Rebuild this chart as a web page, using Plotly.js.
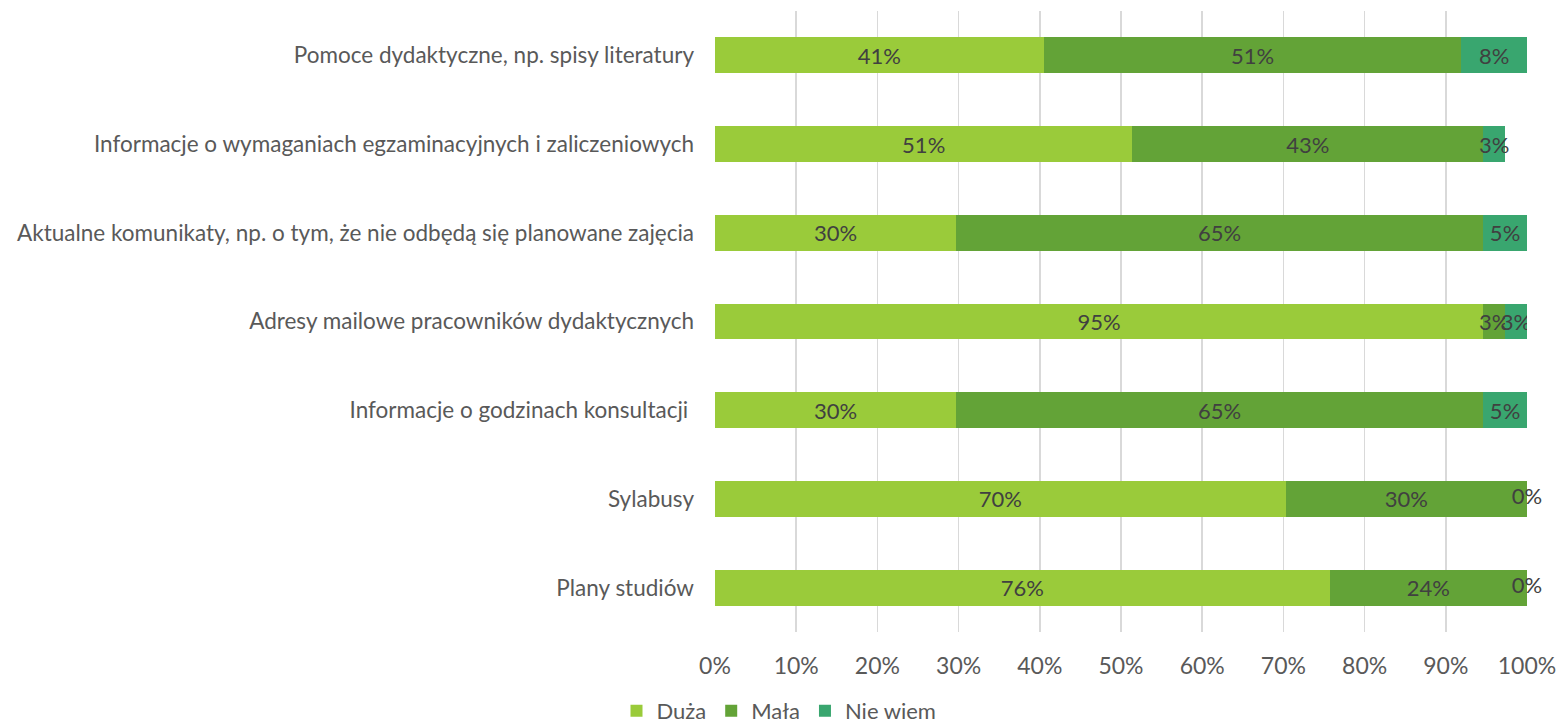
<!DOCTYPE html>
<html>
<head>
<meta charset="utf-8">
<script src="https://cdn.plot.ly/plotly-3.0.1.min.js"></script>
<style>html,body{margin:0;padding:0;background:#fff;}#chart{width:1558px;height:727px;}</style>
</head>
<body>
<div id="chart"></div>
<script>
const categories = [
  "Pomoce dydaktyczne, np. spisy literatury",
  "Informacje o wymaganiach egzaminacyjnych i zaliczeniowych",
  "Aktualne komunikaty, np. o tym, że nie odbędą się planowane zajęcia",
  "Adresy mailowe pracowników dydaktycznych",
  "Informacje o godzinach konsultacji ",
  "Sylabusy",
  "Plany studiów"
];
const duza    = [0.405, 0.514, 0.297, 0.946, 0.297, 0.703, 0.757];
const mala    = [0.514, 0.432, 0.649, 0.027, 0.649, 0.297, 0.243];
const nieWiem = [0.081, 0.027, 0.054, 0.027, 0.054, 0.000, 0.000];
const seriesNames = ["Duża", "Mała", "Nie wiem"];
const colors = ["#9ACB3A", "#63A337", "#39A66F"];
const xTicks = [0,0.1,0.2,0.3,0.4,0.5,0.6,0.7,0.8,0.9,1.0];
const xTickText = ["0%","10%","20%","30%","40%","50%","60%","70%","80%","90%","100%"];

const FONT = "Lato, 'Open Sans', sans-serif";
const FS = 22;
const txtColor = "#404040";
const seriesVals = [duza, mala, nieWiem];
const pct = v => Math.round(v*100) + "%";

const traces = seriesVals.map((vals, i) => ({
  type: "bar",
  orientation: "h",
  name: seriesNames[i],
  y: categories,
  x: vals,
  marker: {color: colors[i], line: {width: 0}},
  width: 0.405,
  text: vals.map(pct),
  textposition: "inside",
  insidetextanchor: "middle",
  constraintext: "none",
  textangle: 0,
  textfont: {family: FONT, size: FS, color: txtColor},
  hoverinfo: "none"
}));

// labels for zero-width segments (drawn at the end of the stack)
const zeroIdx = nieWiem.map((v, i) => v === 0 ? i : -1).filter(i => i >= 0);
traces.push({
  type: "scatter",
  mode: "text",
  showlegend: false,
  y: zeroIdx.map(i => categories[i]),
  x: zeroIdx.map(i => duza[i] + mala[i] + nieWiem[i]),
  text: zeroIdx.map(i => pct(nieWiem[i])),
  textposition: "middle center",
  textfont: {family: FONT, size: FS, color: txtColor},
  cliponaxis: false,
  hoverinfo: "none"
});

const layout = {
  barmode: "stack",
  width: 1558,
  height: 727,
  margin: {l: 715, r: 31, t: 11, b: 95},
  paper_bgcolor: "#ffffff",
  plot_bgcolor: "#ffffff",
  font: {family: FONT, size: FS, color: "#595959"},
  bargap: 0.595,
  xaxis: {
    range: [0, 1],
    tickvals: xTicks,
    ticktext: xTickText,
    showgrid: true,
    gridcolor: "#d9d9d9",
    gridwidth: 1.5,
    zeroline: false,
    showline: false,
    ticks: "",
    ticklabelstandoff: 18,
    tickfont: {family: FONT, size: 23, color: "#595959"},
    automargin: false,
    fixedrange: true
  },
  yaxis: {
    type: "category",
    autorange: "reversed",
    showgrid: false,
    zeroline: false,
    showline: false,
    ticks: "",
    ticklabelstandoff: 20,
    tickfont: {family: FONT, size: 22.5, color: "#595959"},
    automargin: false,
    fixedrange: true
  },
  showlegend: true,
  legend: {
    orientation: "h",
    x: 0.5,
    xref: "container",
    xanchor: "center",
    y: 0.022,
    yref: "container",
    yanchor: "middle",
    font: {family: FONT, size: FS, color: "#595959"},
    itemwidth: 30,
    traceorder: "normal"
  }
};

Plotly.newPlot("chart", traces, layout, {displayModeBar: false, staticPlot: true});
</script>
</body>
</html>
